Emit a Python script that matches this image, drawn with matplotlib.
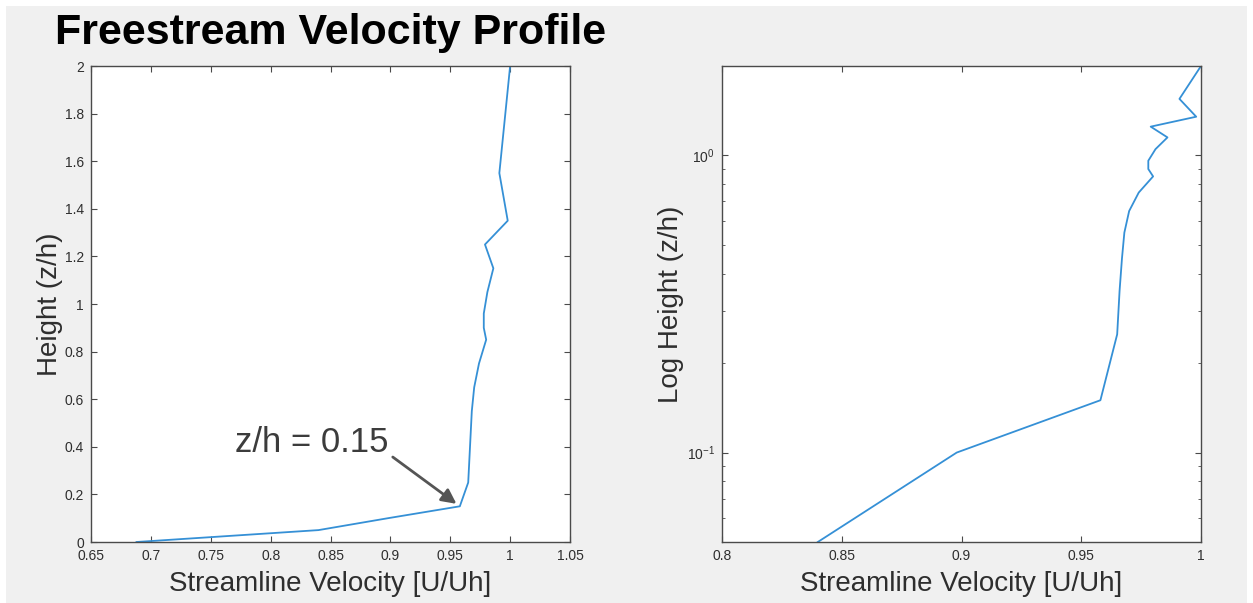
import matplotlib
matplotlib.use("Agg")
import matplotlib.pyplot as plt
import matplotlib.ticker as ticker
from matplotlib.patches import Rectangle

# Streamwise velocity profile, normalised by the velocity at canopy height
z_h = [0.00, 0.05, 0.10, 0.15, 0.25, 0.35, 0.45, 0.55, 0.65, 0.75,
       0.85, 0.90, 0.96, 1.05, 1.15, 1.25, 1.35, 1.55, 2.00]
u_uh = [0.688, 0.840, 0.898, 0.958, 0.965, 0.966, 0.967, 0.968, 0.970, 0.974,
        0.980, 0.978, 0.978, 0.981, 0.986, 0.979, 0.998, 0.991, 1.000]

# index of the point called out on the linear plot
knee_idx = 3
knee_label = f"z/h = {z_h[knee_idx]:g}"

lin_xticks = [0.65, 0.7, 0.75, 0.8, 0.85, 0.9, 0.95, 1.0, 1.05]
lin_yticks = [0, 0.2, 0.4, 0.6, 0.8, 1.0, 1.2, 1.4, 1.6, 1.8, 2.0]
log_xticks = [0.8, 0.85, 0.9, 0.95, 1.0]

plt.rcParams['font.family'] = ['Liberation Sans', 'DejaVu Sans']
plt.rcParams['mathtext.fontset'] = 'custom'
plt.rcParams['mathtext.rm'] = 'Liberation Sans'

line_color = '#3590d6'
axis_color = '#4a4a4a'
text_color = '#2e2e2e'
bg = '#f0f0f0'
tick_size = 10
label_size = 20

W, H = 1253, 603
fig = plt.figure(figsize=(W / 100, H / 100), dpi=100, facecolor='white')
fig.patches.append(Rectangle((6 / W, 0), (W - 12) / W, (H - 6) / H,
                             transform=fig.transFigure, facecolor=bg,
                             edgecolor='none', zorder=-10))

ax_w = 479 / W
ax_h = 476 / H
ax_b = 61 / H
ax1 = fig.add_axes([91 / W, ax_b, ax_w, ax_h])
ax2 = fig.add_axes([722 / W, ax_b, ax_w, ax_h])


def matlab_style(ax):
    ax.set_facecolor('white')
    for s in ax.spines.values():
        s.set_color(axis_color)
        s.set_linewidth(1.0)
    ax.tick_params(which='both', direction='in', top=True, right=True,
                   color=axis_color, labelcolor=text_color, labelsize=tick_size)
    ax.tick_params(which='major', length=4, width=0.8, pad=5)
    ax.tick_params(which='minor', length=2.5, width=0.6)


# linear height axis
ax1.plot(u_uh, z_h, color=line_color, lw=1.3)
ax1.set_xlim(0.65, 1.05)
ax1.set_ylim(0, 2)
ax1.set_xticks(lin_xticks)
ax1.set_yticks(lin_yticks)
fmt = ticker.FuncFormatter(lambda v, p: f"{v:g}")
ax1.xaxis.set_major_formatter(fmt)
ax1.yaxis.set_major_formatter(fmt)
matlab_style(ax1)
ax1.set_xlabel("Streamline Velocity [U/Uh]", fontsize=label_size, color=text_color, labelpad=6)
ax1.set_ylabel("Height (z/h)", fontsize=label_size, color=text_color, labelpad=1)

ax1.text(0.8346, 0.416, knee_label, fontsize=25, color='#3c3c3c',
         ha='center', va='center')
ax1.annotate('', xy=(u_uh[knee_idx], z_h[knee_idx]), xytext=(0.902, 0.357),
             arrowprops=dict(arrowstyle='-|>', color='#555555', lw=2.0,
                             mutation_scale=22, shrinkA=0, shrinkB=3))

# log height axis
ax2.plot(u_uh, z_h, color=line_color, lw=1.3)
ax2.set_yscale('log', nonpositive='mask')
ax2.set_xlim(0.8, 1.0)
ax2.set_ylim(0.05, 2)
ax2.set_xticks(log_xticks)
ax2.xaxis.set_major_formatter(fmt)
ax2.yaxis.set_major_locator(ticker.LogLocator(base=10, numticks=10))
ax2.yaxis.set_minor_locator(ticker.LogLocator(base=10, subs=range(2, 10), numticks=10))
ax2.yaxis.set_minor_formatter(ticker.NullFormatter())
matlab_style(ax2)
ax2.set_xlabel("Streamline Velocity [U/Uh]", fontsize=label_size, color=text_color, labelpad=6)
ax2.set_ylabel("Log Height (z/h)", fontsize=label_size, color=text_color, labelpad=2)

fig.text(55 / W, 1 - 33 / H, "Freestream Velocity Profile", fontsize=31,
         fontweight='bold', color='black', ha='left', va='center')

fig.savefig("out.png", dpi=100, facecolor=fig.get_facecolor())
